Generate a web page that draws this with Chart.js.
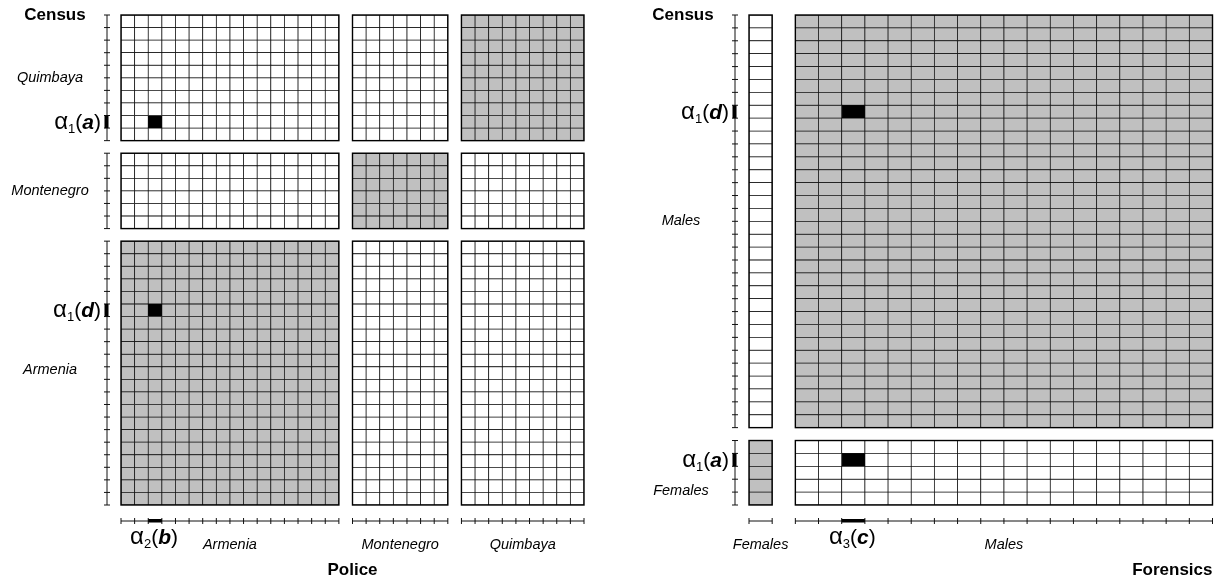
<!DOCTYPE html>
<html>
<head>
<meta charset="utf-8">
<script src="https://cdn.jsdelivr.net/npm/chart.js@4/dist/chart.umd.min.js"></script>
<style>
  html, body { margin: 0; padding: 0; background: #fff; }
  #wrap { position: relative; width: 1219px; height: 582px; }
  .panel { position: absolute; top: 0; height: 582px; }
</style>
</head>
<body>
<div id="wrap">
  <div class="panel" style="left:0;width:610px"><canvas id="left" width="610" height="582"></canvas></div>
  <div class="panel" style="left:610px;width:609px"><canvas id="right" width="609" height="582"></canvas></div>
</div>
<script>
(function () {
  "use strict";

  // Left panel: Census (rows) against Police (columns)
  const POLICE_CATS = ["Armenia", "Montenegro", "Quimbaya"];
  const POLICE_SIZES = [16, 7, 9];
  const CENSUS_L_CATS = ["Quimbaya", "Montenegro", "Armenia"];
  const CENSUS_L_SIZES = [10, 6, 21];
  const SHADED_L = [["Quimbaya", "Quimbaya"], ["Montenegro", "Montenegro"], ["Armenia", "Armenia"]];
  // [rowCat, rowIndex, colCat, colIndex]
  const MARKED_L = [["Quimbaya", 8, "Armenia", 2], ["Armenia", 5, "Armenia", 2]];
  // [cat, index, subscript, letter]
  const ROW_TAGS_L = [["Quimbaya", 8, "1", "a"], ["Armenia", 5, "1", "d"]];
  const COL_TAGS_L = [["Armenia", 2, "2", "b"]];

  // Right panel: Census (rows) against Forensics (columns)
  const FORENSICS_CATS = ["Females", "Males"];
  const FORENSICS_SIZES = [1, 18];
  const CENSUS_R_CATS = ["Males", "Females"];
  const CENSUS_R_SIZES = [32, 5];
  const SHADED_R = [["Males", "Males"], ["Females", "Females"]];
  const MARKED_R = [["Males", 7, "Males", 2], ["Females", 1, "Males", 2]];
  const ROW_TAGS_R = [["Males", 7, "1", "d"], ["Females", 1, "1", "a"]];
  const COL_TAGS_R = [["Males", 2, "3", "c"]];

  const FONT = '"Liberation Sans", Arial, Helvetica, sans-serif';
  const GRAY = "#c0c0c0";

  // block start positions, one empty unit between blocks
  function starts(sizes) {
    const out = [];
    let s = 0;
    sizes.forEach((n) => { out.push(s); s += n + 1; });
    return out;
  }
  const total = (sizes) => sizes.reduce((a, b) => a + b, 0) + sizes.length - 1;

  function buildCells(p) {
    const rs = starts(p.rowSizes), cs = starts(p.colSizes);
    const plain = [], shaded = [], marked = [];
    p.rowCats.forEach((rc, i) => {
      p.colCats.forEach((cc, j) => {
        const isShaded = p.shaded.some((s) => s[0] === rc && s[1] === cc);
        for (let r = 0; r < p.rowSizes[i]; r++) {
          for (let c = 0; c < p.colSizes[j]; c++) {
            const pt = { x: cs[j] + c + 0.5, y: [rs[i] + r, rs[i] + r + 1] };
            const isMarked = p.marked.some((m) => m[0] === rc && m[1] === r && m[2] === cc && m[3] === c);
            if (isMarked) marked.push(pt);
            else if (isShaded) shaded.push(pt);
            else plain.push(pt);
          }
        }
      });
    });
    return { plain, shaded, marked };
  }

  function drawTag(ctx, x, baseline, sub, letter, align) {
    const parts = [
      { t: "α", f: "24px " + FONT, dy: 0 },
      { t: sub, f: "13px " + FONT, dy: 4 },
      { t: "(", f: "21px " + FONT, dy: 0 },
      { t: letter, f: "italic bold 21px " + FONT, dy: 0 },
      { t: ")", f: "21px " + FONT, dy: 0 },
    ];
    let w = 0;
    parts.forEach((pt) => { ctx.font = pt.f; pt.w = ctx.measureText(pt.t).width; w += pt.w; });
    let cx = align === "right" ? x - w : x - w / 2;
    ctx.textAlign = "left";
    ctx.textBaseline = "alphabetic";
    parts.forEach((pt) => { ctx.font = pt.f; ctx.fillText(pt.t, cx, baseline + pt.dy); cx += pt.w; });
  }

  function decor(p) {
    return {
      id: "decor",
      afterDatasetsDraw(chart) {
        const ctx = chart.ctx;
        const px = (v) => chart.scales.x.getPixelForValue(v);
        const py = (v) => chart.scales.y.getPixelForValue(v);
        const rs = starts(p.rowSizes), cs = starts(p.colSizes);
        const nRows = total(p.rowSizes), nCols = total(p.colSizes);
        const gridL = px(0), gridR = px(nCols), gridB = py(nRows);
        const axisX = gridL - 14, axisY = gridB + 16;

        ctx.save();
        // block outlines
        ctx.strokeStyle = "#000";
        ctx.lineWidth = 1.4;
        rs.forEach((r0, i) => cs.forEach((c0, j) => {
          ctx.strokeRect(px(c0), py(r0), px(c0 + p.colSizes[j]) - px(c0), py(r0 + p.rowSizes[i]) - py(r0));
        }));

        // left axis, one segment per row block
        ctx.lineWidth = 1;
        ctx.strokeStyle = "#111";
        rs.forEach((r0, i) => {
          ctx.beginPath();
          ctx.moveTo(axisX, py(r0));
          ctx.lineTo(axisX, py(r0 + p.rowSizes[i]));
          for (let k = 0; k <= p.rowSizes[i]; k++) {
            ctx.moveTo(axisX - 3, py(r0 + k));
            ctx.lineTo(axisX + 3, py(r0 + k));
          }
          ctx.stroke();
        });
        // bottom axis, one segment per column block
        cs.forEach((c0, j) => {
          ctx.beginPath();
          ctx.moveTo(px(c0), axisY);
          ctx.lineTo(px(c0 + p.colSizes[j]), axisY);
          for (let k = 0; k <= p.colSizes[j]; k++) {
            ctx.moveTo(px(c0 + k), axisY - 3);
            ctx.lineTo(px(c0 + k), axisY + 3);
          }
          ctx.stroke();
        });

        // highlighted ticks + alpha labels
        ctx.fillStyle = "#000";
        p.rowTags.forEach((t) => {
          const r = rs[p.rowCats.indexOf(t[0])] + t[1];
          ctx.fillRect(axisX - 2.5, py(r), 4, py(r + 1) - py(r));
          drawTag(ctx, axisX - 6, (py(r) + py(r + 1)) / 2 + 7, t[2], t[3], "right");
        });
        p.colTags.forEach((t) => {
          const c = cs[p.colCats.indexOf(t[0])] + t[1];
          ctx.fillRect(px(c), axisY - 2, px(c + 1) - px(c), 3.5);
          drawTag(ctx, (px(c) + px(c + 1)) / 2 - 1, axisY + 23, t[2], t[3], "center");
        });

        // category labels
        ctx.textAlign = "center";
        ctx.textBaseline = "middle";
        ctx.font = "italic 14.5px " + FONT;
        p.rowCats.forEach((name, i) => {
          const y = (py(rs[i]) + py(rs[i] + p.rowSizes[i])) / 2 + (p.rowNudge[name] || 0);
          ctx.fillText(name, axisX - p.rowLabelDx, y);
        });
        p.colCats.forEach((name, j) => {
          ctx.fillText(name, (px(cs[j]) + px(cs[j] + p.colSizes[j])) / 2, gridB + 40);
        });

        // axis titles
        ctx.font = "bold 17px " + FONT;
        ctx.fillText(p.rowTitle, axisX - 52, py(0));
        if (p.colTitleAlign === "end") {
          ctx.textAlign = "right";
          ctx.fillText(p.colTitle, gridR, gridB + 65);
        } else {
          ctx.fillText(p.colTitle, (gridL + gridR) / 2, gridB + 65);
        }
        ctx.restore();
      },
    };
  }

  function panel(canvasId, p) {
    const cells = buildCells(p);
    const bar = (data, bg, border) => ({
      data: data,
      backgroundColor: bg,
      borderColor: border,
      borderWidth: 0.75,
      borderSkipped: false,
      grouped: false,
      categoryPercentage: 1,
      barPercentage: 1,
    });
    new Chart(document.getElementById(canvasId), {
      type: "bar",
      data: {
        datasets: [
          bar(cells.plain, "#ffffff", "#111"),
          bar(cells.shaded, GRAY, "#111"),
          bar(cells.marked, "#000000", "#000"),
        ],
      },
      options: {
        responsive: false,
        animation: false,
        events: [],
        layout: { padding: p.padding },
        plugins: { legend: { display: false }, tooltip: { enabled: false } },
        scales: {
          x: { type: "linear", min: 0, max: total(p.colSizes), offset: false, display: false },
          y: { type: "linear", min: 0, max: total(p.rowSizes), reverse: true, offset: false, display: false },
        },
      },
      plugins: [decor(p)],
    });
  }

  panel("left", {
    rowCats: CENSUS_L_CATS, rowSizes: CENSUS_L_SIZES,
    colCats: POLICE_CATS, colSizes: POLICE_SIZES,
    shaded: SHADED_L, marked: MARKED_L,
    rowTags: ROW_TAGS_L, colTags: COL_TAGS_L,
    rowTitle: "Census", colTitle: "Police", colTitleAlign: "center",
    rowLabelDx: 57, rowNudge: { Armenia: -3 },
    padding: { left: 121, right: 26, top: 15, bottom: 77 },
  });

  panel("right", {
    rowCats: CENSUS_R_CATS, rowSizes: CENSUS_R_SIZES,
    colCats: FORENSICS_CATS, colSizes: FORENSICS_SIZES,
    shaded: SHADED_R, marked: MARKED_R,
    rowTags: ROW_TAGS_R, colTags: COL_TAGS_R,
    rowTitle: "Census", colTitle: "Forensics", colTitleAlign: "end",
    rowLabelDx: 54, rowNudge: { Females: 18 },
    padding: { left: 139, right: 6.5, top: 15, bottom: 77 },
  });
})();
</script>
</body>
</html>
